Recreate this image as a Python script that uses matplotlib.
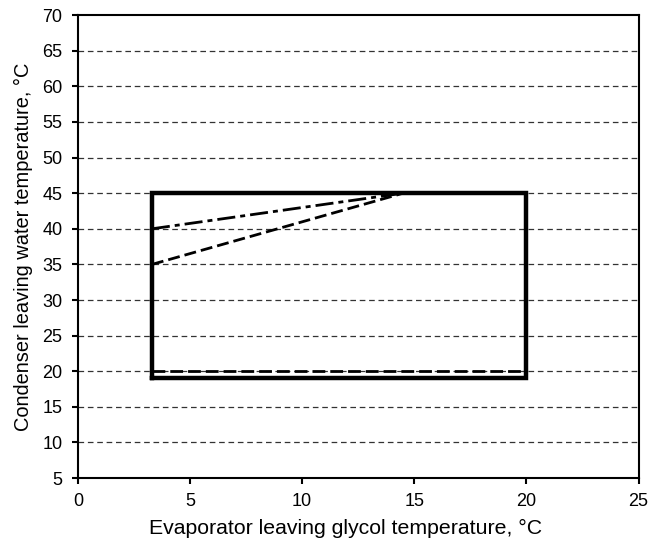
import numpy as np
import matplotlib.pyplot as plt

plt.rcParams['font.family'] = ['Liberation Sans', 'DejaVu Sans']

# operating envelope (evaporator glycol temp, condenser water temp)
envelope_x = [3.3, 20, 20, 3.3, 3.3]
envelope_y = [19, 19, 45, 45, 19]

# upper-left limit lines
dashdot_x = [3.3, 14.5]
dashdot_y = [40, 45]
dashed_x = [3.3, 14.5]
dashed_y = [35, 45]

# lower dashed limit
low_x = [3.3, 20]
low_y = [20, 20]

x_ticks = np.arange(0, 26, 5)
y_ticks = np.arange(5, 71, 5)


fig = plt.figure(figsize=(6.49, 5.42), dpi=100)
ax1 = fig.add_axes([0.12, 0.118, 0.864, 0.854])

for y in y_ticks[1:-1]:
    ax1.axhline(y, color='#333333', linestyle=(0, (4.5, 3)), lw=0.9, zorder=1)

ax1.plot(envelope_x, envelope_y, color='black', lw=3.2, solid_joinstyle='miter', zorder=3)
ax1.plot(dashdot_x, dashdot_y, color='black', lw=2, linestyle=(0, (6.5, 1.8, 1.8, 1.8)), zorder=3)
ax1.plot(dashed_x, dashed_y, color='black', lw=2, linestyle=(0, (4.3, 1.8)), zorder=3)
ax1.plot(low_x, low_y, color='black', lw=2, linestyle=(0, (4.6, 1.8)), zorder=3)

ax1.set_xlim(0, 25)
ax1.set_ylim(5, 70)
ax1.set_xticks(x_ticks)
ax1.set_yticks(y_ticks)

for s in ax1.spines.values():
    s.set_linewidth(1.5)
ax1.tick_params(direction='out', length=4, width=1.5, labelsize=13)
ax1.tick_params(axis='x', pad=6.5)
ax1.tick_params(axis='y', pad=7)

ax1.set_xlabel('Evaporator leaving glycol temperature, °C', fontsize=15.3, labelpad=7)
ax1.xaxis.label.set_x(0.477)
ax1.set_ylabel('Condenser leaving water temperature, °C', fontsize=14.4, labelpad=7)

fig.savefig('out.png')
plt.close(fig)
